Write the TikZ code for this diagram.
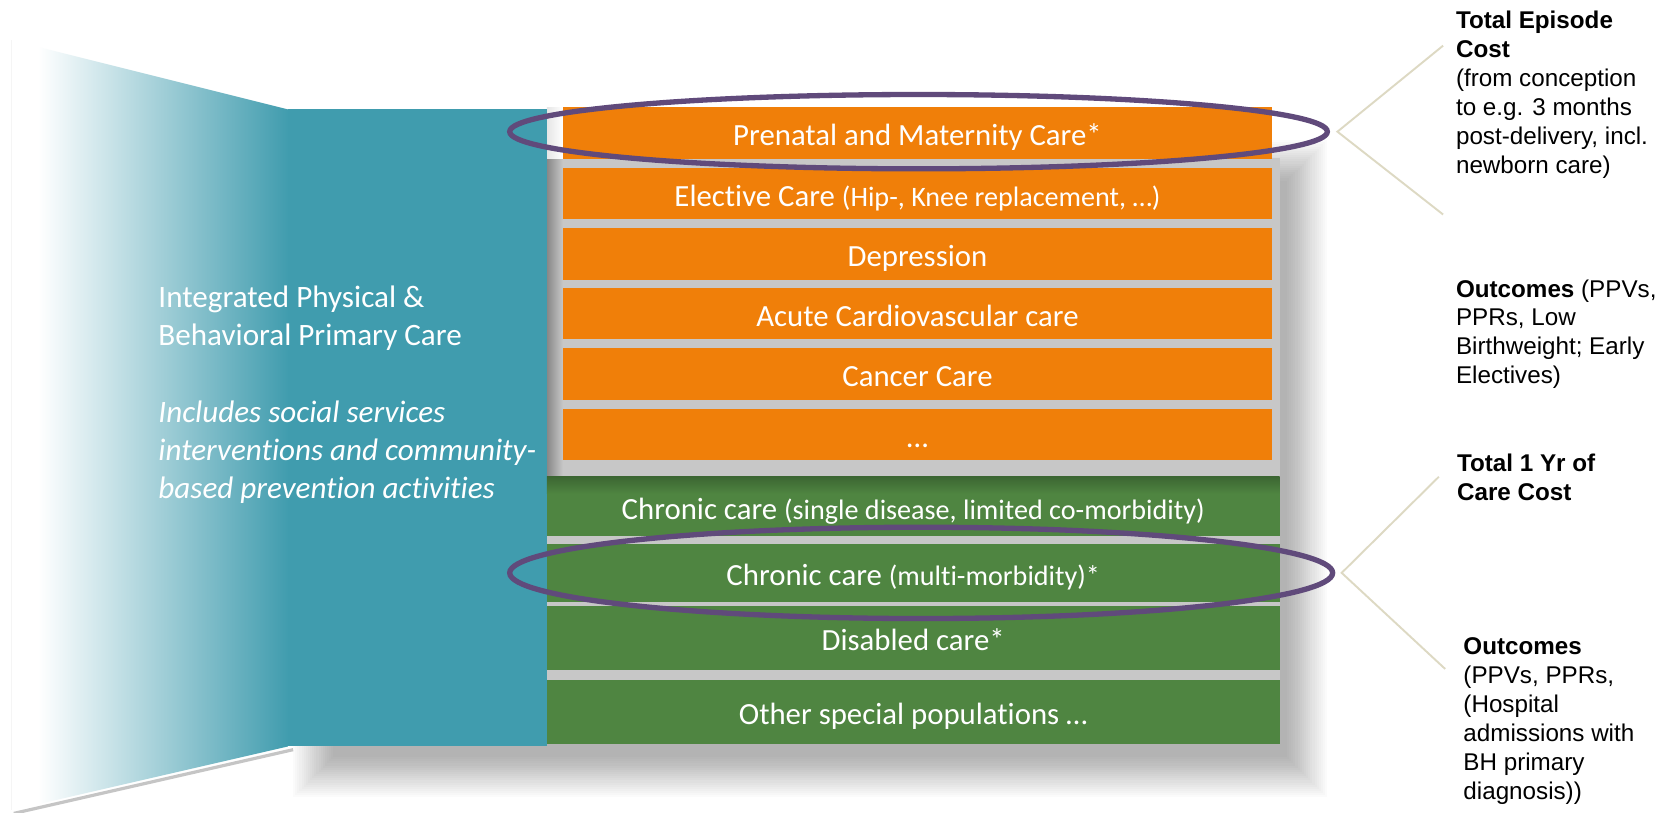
\documentclass[tikz,border=0pt]{standalone}
\usepackage{fontspec}
\setmainfont{Carlito}[Ligatures=NoCommon]
\newfontfamily\arialf{Liberation Sans}
\usetikzlibrary{shapes.geometric}
\definecolor{tealc}{RGB}{64,156,174}
\definecolor{orangec}{RGB}{240,127,9}
\definecolor{greenc}{RGB}{79,133,65}
\definecolor{greendark}{RGB}{60,102,50}
\definecolor{purplec}{RGB}{96,74,123}
\definecolor{beigec}{RGB}{221,217,195}
\definecolor{gapgray}{RGB}{199,199,199}
\definecolor{stripdark}{RGB}{135,135,135}
\newcommand\bartext{\fontsize{29}{34}\selectfont}
\newcommand\barsmall{\fontsize{26.5}{32}\selectfont}
\newcommand\lefttextfont{\fontsize{29.3}{35}\selectfont}
\newcommand\rightfont{\arialf\fontsize{22.8}{27.2}\selectfont}
\begin{document}
\begin{tikzpicture}[x=1pt,y=-1pt,
  obar/.style={fill=orangec, minimum width=668pt, minimum height=48.5pt, inner sep=0pt, text=white, font=\bartext, text height=27pt, text depth=3pt},
  gbar/.style={fill=greenc, minimum width=690pt, inner sep=0pt, text=white, font=\bartext, text height=27pt, text depth=3pt},
  hl/.style={ellipse, draw=purplec, line width=5pt, inner sep=0pt},
  callout/.style={draw=beigec, line width=1.8pt},
  ltext/.style={text=white, font=\lefttextfont, inner sep=0pt, anchor=base west},
  rtext/.style={font=\rightfont, align=left, inner sep=0pt, anchor=north west},
  shadowlayer/.style={fill=black, opacity=0.015},
]
\path[use as bounding box, fill=white] (0,0) rectangle (1568,765.6);

% soft drop shadow of the stack (stacked translucent layers)
\foreach \i in {0,...,19}{
  \fill[shadowlayer] ({276+2*\i},{132+2*\i}) rectangle ({1250-2*\i},{751-2*\i});
}

% gaps between bars
\fill[gapgray] (515,149) rectangle (1205,701);
\shade[left color=gray!20, right color=white] (515,101) rectangle (530,150);
\shade[left color=stripdark, right color=gapgray] (515,150) rectangle (530,449);

% shadow under slanted bottom edge
\draw[gray, line width=3pt, opacity=0.45] (13,766) -- (276,706);

% gradient wedge
\begin{scope}
\clip (11,38) -- (271,103) -- (271,703) -- (11,763) -- cycle;
\fill[white] (11,30) rectangle (36,770);
\shade[left color=white, right color=tealc] (36,30) rectangle (272,770);
\end{scope}
\draw[gray!8] (11,38) -- (11,763);
\fill[tealc] (271,103) rectangle (515,703);

% left texts
\node[ltext] (lt1) at (149,290) {Integrated Physical \&};
\node[ltext] (lt2) at (149,325.5) {Behavioral Primary Care};
\node[ltext] (lt3) at (149,398) {\itshape Includes social services};
\node[ltext] (lt4) at (149,433.5) {\itshape interventions and community-};
\node[ltext] (lt5) at (149,469) {\itshape based prevention activities};

% orange bars
\node[obar] (o1) at (864,125.25) {Prenatal and Maternity Care*};
\node[obar] (o2) at (864,182.25) {Elective Care {\barsmall(Hip-, Knee replacement, …)}};
\node[obar] (o3) at (864,239.25) {Depression};
\node[obar] (o4) at (864,295.25) {Acute Cardiovascular care};
\node[obar] (o5) at (864,352.25) {Cancer Care};
\node[obar] (o6) at (864,409.25) {…};

% green bars
\node[gbar, minimum height=56pt] (g1) at (860,477) {Chronic care {\barsmall(single disease, limited co-morbidity)}};
\shade[top color=greendark, bottom color=greenc] (515,449) rectangle (1205,465);
\node[gbar, minimum height=55pt] (g2) at (860,539.5) {Chronic care {\barsmall(multi-morbidity)*}};
\node[gbar, minimum height=60pt] (g3) at (860,601) {Disabled care*};
\node[gbar, minimum height=61pt] (g4) at (860,670.5) {Other special populations …};

% highlight ellipses
\node[hl, minimum width=770pt, minimum height=70pt] (e1) at (865,124) {};
\node[hl, minimum width=775pt, minimum height=86pt] (e2) at (867.5,539.5) {};

% callout lines
\coordinate (c1) at ([xshift=7pt]e1.east);
\coordinate (c1u) at (1359,43);
\coordinate (c1d) at (1359,202);
\draw[callout] (c1u) -- (c1) -- (c1d);
\coordinate (c2) at ([xshift=6pt]e2.east);
\coordinate (c2u) at (1355,449);
\coordinate (c2d) at (1361,630);
\draw[callout] (c2u) -- (c2) -- (c2d);

% right texts
\node[rtext] (r1) at (1371,10.5) {\textbf{Total Episode}\\\textbf{Cost}\\(from conception\\to e.g. 3 months\\post-delivery, incl.\\newborn care)};
\node[rtext] (r2) at (1371,263) {\textbf{Outcomes} (PPVs,\\PPRs, Low\\Birthweight; Early\\Electives)};
\node[rtext] (r3) at (1372,427.7) {\textbf{Total 1 Yr of}\\\textbf{Care Cost}};
\node[rtext] (r4) at (1378,600.7) {\textbf{Outcomes}\\(PPVs, PPRs,\\(Hospital\\admissions with\\BH primary\\diagnosis))};
\end{tikzpicture}
\end{document}
